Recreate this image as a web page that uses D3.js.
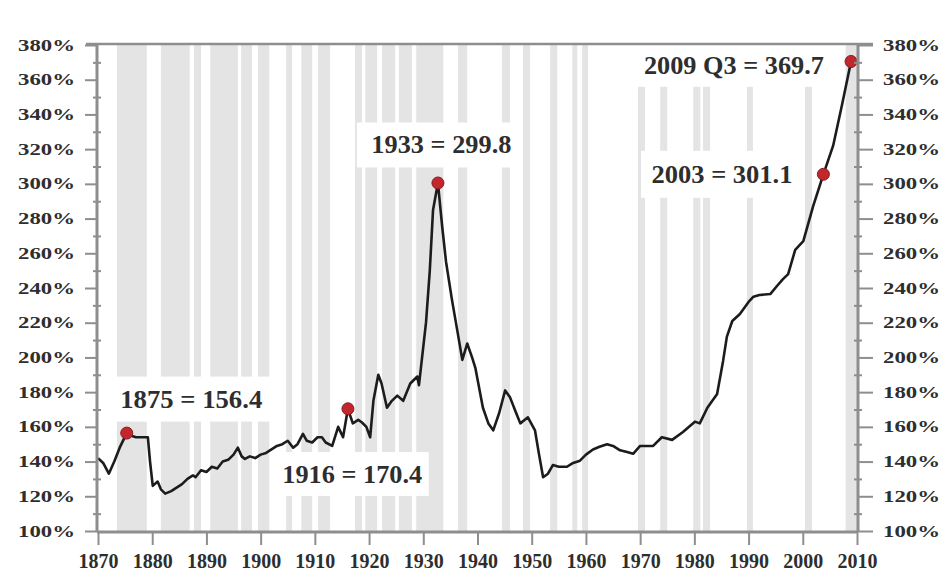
<!DOCTYPE html>
<html>
<head>
<meta charset="utf-8">
<script src="https://cdn.jsdelivr.net/npm/d3@7"></script>
<style>
  html, body { margin: 0; padding: 0; background: #fff; }
  svg { display: block; }
  text { font-family: "Liberation Serif", "Times New Roman", serif; font-weight: bold; fill: #2e2e2e; }
</style>
</head>
<body>
<svg id="chart" width="941" height="579"></svg>
<script>
// ---- Data ----
const years = [1870, 1871, 1872, 1873, 1874, 1875.3, 1876, 1877, 1878, 1879.2, 1879.6, 1880.1, 1881, 1881.6, 1882.4,
  1883.5, 1884.5, 1885.5, 1886.5, 1887.5, 1888, 1889, 1890, 1891, 1892, 1893, 1894, 1895, 1895.8, 1896.5, 1897.1,
  1898, 1899, 1900, 1901, 1902, 1903, 1904, 1905, 1906, 1906.8, 1907.8, 1908.5, 1909.5, 1910.5, 1911.3, 1912,
  1913.2, 1914.3, 1915.2, 1916.1, 1917, 1918, 1918.7, 1919.5, 1920.2, 1920.8, 1921.7, 1922.3, 1923.3, 1924.2,
  1925.2, 1926.3, 1927.6, 1928.9, 1929.2, 1929.6, 1930.5, 1931.2, 1931.8, 1932.7, 1933.5, 1934.2, 1935.3, 1936.3,
  1937.2, 1938.1, 1939, 1939.6, 1941, 1942, 1942.9, 1944, 1945.1, 1946, 1947, 1947.9, 1949.3, 1950.6, 1951.3,
  1952.1, 1953, 1953.9, 1955, 1956.5, 1957.5, 1958.9, 1960, 1961.3, 1962.5, 1963.9, 1965, 1966.3, 1967.6, 1968.7,
  1970, 1972.4, 1974, 1975.9, 1977.9, 1980.1, 1981, 1982.4, 1984.2, 1985.3, 1986, 1987, 1988.4, 1990, 1990.9,
  1992, 1994, 1995.2, 1996.3, 1997.3, 1998.6, 2000.1, 2001.9, 2003.8, 2005.6, 2007.2, 2008.9];
const debtToGdp = [142, 139, 133, 140, 148, 156.4, 155, 154, 154, 154, 140, 126, 128.5, 124, 121.5,
  123, 125, 127, 130, 132, 131, 135, 134, 137, 136, 140, 141, 144, 148, 143, 141.5,
  143, 142, 144, 145, 147, 149, 150, 152, 148, 150, 156, 152, 151, 154, 154, 151,
  149, 160, 154, 170.4, 162, 164, 162.5, 160, 154, 175, 190, 185, 171, 175,
  178, 175, 185, 189, 184, 195, 220, 250, 285, 300.5, 275, 255, 233, 215,
  198.6, 208, 200, 194, 171, 162, 158, 168, 181, 177, 169, 162, 165.5, 158, 145,
  131, 133, 138, 137, 137, 139, 140.5, 144, 147, 148.5, 150, 149, 146.5, 145.5, 144.5,
  149, 149, 154, 152.5, 157, 163, 162, 171, 179, 198, 212, 221, 225, 232, 235,
  236, 236.5, 241, 245, 248, 262, 267, 287, 305.5, 322, 345, 370.5];

const recessionStart = [1873.5, 1881.6, 1887.7, 1890.7, 1896.4, 1899.5, 1904.7, 1907.5, 1910.6, 1917.4, 1919.3,
  1922.4, 1925.5, 1928.7, 1936.4, 1944.5, 1948.4, 1953.4, 1957.5, 1959.3, 1969.6, 1973.7, 1979.8, 1981.6,
  1989.7, 2000.4, 2007.9];
const recessionEnd = [1879, 1886.9, 1889, 1895.8, 1898.4, 1901.6, 1905.8, 1909.5, 1912.8, 1918.7, 1921.5,
  1924.8, 1927.9, 1933.7, 1938.1, 1946, 1949.7, 1954.7, 1958.4, 1960.4, 1970.9, 1975, 1981.1, 1982.9,
  1990.8, 2001.7, 2010];

const yTicks = [100, 120, 140, 160, 180, 200, 220, 240, 260, 280, 300, 320, 340, 360, 380];
const yMinorTicks = [110, 130, 150, 170, 190, 210, 230, 250, 270, 290, 310, 330, 350, 370];
const xTicks = [1870, 1880, 1890, 1900, 1910, 1920, 1930, 1940, 1950, 1960, 1970, 1980, 1990, 2000, 2010];

const markerYears = [1875.3, 1916.1, 1932.7, 2003.8, 2008.9];
const labelTexts = ["1875 = 156.4", "1916 = 170.4", "1933 = 299.8", "2003 = 301.1", "2009 Q3 = 369.7"];

// ---- Layout ----
const svg = d3.select("#chart");
const x = d3.scaleLinear().domain([1870, 2010]).range([98, 857]);
const y = d3.scaleLinear().domain([100, 380]).range([531, 45]);
const axisColor = "#8e8e8e";
const bandColor = "#e4e4e4";

// Recession bands
svg.append("g").selectAll("rect").data(recessionStart).join("rect")
  .attr("x", (d) => x(d))
  .attr("width", (d, i) => x(recessionEnd[i]) - x(d))
  .attr("y", y(380))
  .attr("height", y(100) - y(380))
  .attr("fill", bandColor);

// Label boxes (white) with label text, positioned in data units
const labelBoxes = [
  {cx: 1887.2, cy: 176,   w: 166, h: 45, tw: 142},
  {cx: 1916.9, cy: 132.8, w: 153, h: 44, tw: 140},
  {cx: 1932.6, cy: 322.4, w: 161, h: 45, tw: 140},
  {cx: 1985.1, cy: 305.5, w: 162, h: 47, tw: 141},
  {cx: 1987.3, cy: 368.3, w: 200, h: 43, tw: 180}
];
const lab = svg.append("g");
lab.selectAll("rect").data(labelBoxes).join("rect")
  .attr("x", (d) => x(d.cx) - d.w / 2)
  .attr("y", (d) => y(d.cy) - d.h / 2)
  .attr("width", (d) => d.w)
  .attr("height", (d) => d.h)
  .attr("fill", "#fff");

// Line
const pts = years.map((yr, i) => [yr, debtToGdp[i]]);
svg.append("path")
  .datum(pts)
  .attr("fill", "none")
  .attr("stroke", "#1c1c1c")
  .attr("stroke-width", 2.6)
  .attr("stroke-linejoin", "round")
  .attr("d", d3.line().x((d) => x(d[0])).y((d) => y(d[1])).curve(d3.curveLinear));

// Marker dots
svg.append("g").selectAll("circle").data(markerYears).join("circle")
  .attr("cx", (d) => x(d))
  .attr("cy", (d) => y(debtToGdp[years.indexOf(d)]))
  .attr("r", 6)
  .attr("fill", "#c1272d")
  .attr("stroke", "#8a1a1e")
  .attr("stroke-width", 1);

// Label texts
const textOffsets = [0, 0, 4, 0, 0];
lab.selectAll("text").data(labelBoxes).join("text")
  .attr("x", (d, i) => x(d.cx) + textOffsets[i])
  .attr("y", (d) => y(d.cy))
  .attr("text-anchor", "middle")
  .attr("dominant-baseline", "central")
  .attr("font-size", 26)
  .attr("textLength", (d) => d.tw)
  .attr("lengthAdjust", "spacingAndGlyphs")
  .text((d, i) => labelTexts[i]);

// ---- Axes ----
const axG = svg.append("g");
function styleAxis(g) {
  g.select(".domain").remove();
  g.selectAll(".tick line").attr("stroke", axisColor).attr("stroke-width", 2);
}

// Left axis
const leftAxis = axG.append("g").attr("transform", `translate(${x(1870) - 1},0)`)
  .call(d3.axisLeft(y).tickValues(yTicks).tickSize(12).tickPadding(10).tickFormat((d) => d + "%"));
styleAxis(leftAxis);
leftAxis.selectAll(".tick text")
  .attr("font-size", 16).attr("textLength", 57).attr("lengthAdjust", "spacingAndGlyphs")
  .style("font-family", '"Liberation Serif", serif').style("font-weight", "bold").attr("fill", "#333");
const leftMinor = axG.append("g").attr("transform", `translate(${x(1870) + 3},0)`)
  .call(d3.axisLeft(y).tickValues(yMinorTicks).tickSize(8).tickFormat(""));
styleAxis(leftMinor);

// Right axis
const rightAxis = axG.append("g").attr("transform", `translate(${x(2010) + 1},0)`)
  .call(d3.axisRight(y).tickValues(yTicks).tickSize(15).tickPadding(10).tickFormat((d) => d + "%"));
styleAxis(rightAxis);
rightAxis.selectAll(".tick text")
  .attr("font-size", 16).attr("textLength", 57).attr("lengthAdjust", "spacingAndGlyphs")
  .style("font-family", '"Liberation Serif", serif').style("font-weight", "bold").attr("fill", "#333");
const rightMinor = axG.append("g").attr("transform", `translate(${x(2010) - 3},0)`)
  .call(d3.axisRight(y).tickValues(yMinorTicks).tickSize(8).tickFormat(""));
styleAxis(rightMinor);

// Bottom axis
const bottomAxis = axG.append("g").attr("transform", `translate(0,${y(100) + 1})`)
  .call(d3.axisBottom(x).tickValues(xTicks).tickSize(13).tickPadding(9).tickFormat(d3.format("d")));
styleAxis(bottomAxis);
bottomAxis.selectAll(".tick text")
  .attr("font-size", 20)
  .style("font-family", '"Liberation Serif", serif').style("font-weight", "bold").attr("fill", "#333");

// Frame lines
axG.append("line").attr("x1", x(1870) - 1).attr("x2", x(1870) - 1).attr("y1", y(380)).attr("y2", y(100) + 1)
  .attr("stroke", axisColor).attr("stroke-width", 3);
axG.append("line").attr("x1", x(2010) + 1).attr("x2", x(2010) + 1).attr("y1", y(380)).attr("y2", y(100) + 1)
  .attr("stroke", axisColor).attr("stroke-width", 3);
axG.append("line").attr("x1", x(1870) - 1).attr("x2", x(2010) + 1).attr("y1", y(100) + 1).attr("y2", y(100) + 1)
  .attr("stroke", axisColor).attr("stroke-width", 3);
axG.append("line").attr("x1", x(1870) - 12).attr("x2", x(2010) + 16).attr("y1", y(380) - 1).attr("y2", y(380) - 1)
  .attr("stroke", axisColor).attr("stroke-width", 2.5);
</script>
</body>
</html>
